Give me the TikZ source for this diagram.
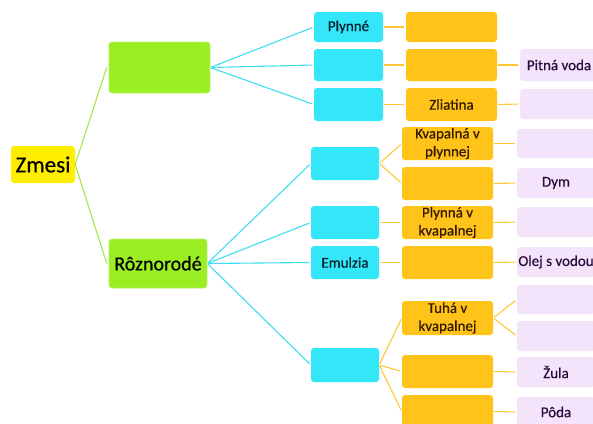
\documentclass[tikz,border=0pt]{standalone}
\usepackage{fontspec}
\setmainfont{Carlito}
\newfontfamily\medfont{Carlito}[FakeBold=0.5]
\definecolor{cyel}{HTML}{FFEE00}
\definecolor{cgrn}{HTML}{9AEE22}
\definecolor{cgrnl}{HTML}{A6E84A}
\definecolor{ccyn}{HTML}{33E6F8}
\definecolor{ccynl}{HTML}{40DDF2}
\definecolor{corg}{HTML}{FFC31A}
\definecolor{corgl}{HTML}{FFC733}
\definecolor{clav}{HTML}{F4E4FB}
\definecolor{tcyn}{HTML}{08202E}
\definecolor{torg}{HTML}{331A00}
\definecolor{tlav}{HTML}{280C3C}
\begin{document}
\begin{tikzpicture}[x=1pt,y=-1pt,
  box/.style={rounded corners=3pt,inner sep=0pt,align=center,font=\medfont\fontsize{15}{18}\selectfont},
  yelbox/.style={box,fill=cyel,text=black,font=\medfont\fontsize{23}{26}\selectfont},
  grnbox/.style={box,fill=cgrn,draw=cgrn!70!white,line width=0.6pt,text=black,font=\medfont\fontsize{20}{24}\selectfont},
  cynbox/.style={box,fill=ccyn,text=tcyn},
  orgbox/.style={box,fill=corg,text=torg},
  lavbox/.style={box,fill=clav,text=tlav},
  gline/.style={draw=cgrnl,line width=1.1pt},
  cline/.style={draw=ccynl,line width=1.1pt,shorten <=1pt,shorten >=1.5pt},
  oline/.style={draw=corgl,line width=1.1pt,shorten <=1pt,shorten >=1.5pt}]
\useasboundingbox (0,0) rectangle (593,423);
% root
\node[yelbox,minimum width=64pt,minimum height=37pt] (zm) at (43,164.5) {Zmesi};
\node[grnbox,minimum width=101pt,minimum height=51pt] (g1) at (159.5,67.5) {};
\node[grnbox,minimum width=98pt,minimum height=49pt] (g2) at (158,263.5) {Rôznorodé};
% group 1
\node[cynbox,minimum width=69pt,minimum height=30pt] (c1) at (348.5,27) {Plynné};
\node[cynbox,minimum width=69pt,minimum height=32pt] (c2) at (348.5,65) {};
\node[cynbox,minimum width=69pt,minimum height=33pt] (c3) at (348.5,104.5) {};
\node[orgbox,minimum width=91pt,minimum height=30pt] (o1) at (451.5,27) {};
\node[orgbox,minimum width=91pt,minimum height=32pt] (o2) at (451.5,65) {};
\node[orgbox,minimum width=91pt,minimum height=33pt] (o3) at (451.5,104.5) {Zliatina};
\node[lavbox,minimum width=78pt,minimum height=32pt] (l2) at (559,65) {Pitná voda};
\node[lavbox,minimum width=78pt,minimum height=30pt] (l3) at (559,104) {};
% group 2
\node[cynbox,minimum width=68pt,minimum height=33pt] (cA) at (345,163.5) {};
\node[cynbox,minimum width=68pt,minimum height=33pt] (cB) at (345,222.5) {};
\node[cynbox,minimum width=68pt,minimum height=33pt] (cE) at (345,262.5) {Emulzia};
\node[cynbox,minimum width=68pt,minimum height=34pt] (cC) at (345,365) {};
\node[orgbox,minimum width=91pt,minimum height=33pt] (oA1) at (447.5,143.5) {Kvapalná v\\plynnej};
\node[orgbox,minimum width=91pt,minimum height=33pt] (oA2) at (447.5,183.5) {};
\node[orgbox,minimum width=91pt,minimum height=33pt] (oB) at (447.5,222.5) {Plynná v\\kvapalnej};
\node[orgbox,minimum width=91pt,minimum height=33pt] (oE) at (447.5,262.5) {};
\node[orgbox,minimum width=91pt,minimum height=34pt] (oC1) at (447.5,318) {Tuhá v\\kvapalnej};
\node[orgbox,minimum width=91pt,minimum height=33pt] (oC2) at (447.5,371.5) {};
\node[orgbox,minimum width=91pt,minimum height=33pt] (oC3) at (447.5,411.5) {};
\node[lavbox,minimum width=78pt,minimum height=29pt] (lA1) at (556,143.5) {};
\node[lavbox,minimum width=78pt,minimum height=30pt] (lA2) at (556,183) {Dym};
\node[lavbox,minimum width=78pt,minimum height=30pt] (lB) at (556,222) {};
\node[lavbox,minimum width=78pt,minimum height=30pt] (lE) at (556,262) {Olej s vodou};
\node[lavbox,minimum width=78pt,minimum height=29pt] (lC1a) at (556,299.5) {};
\node[lavbox,minimum width=78pt,minimum height=30pt] (lC1b) at (556,336) {};
\node[lavbox,minimum width=78pt,minimum height=30pt] (lC2) at (556,372) {Žula};
\node[lavbox,minimum width=78pt,minimum height=30pt] (lC3) at (556,412) {Pôda};
% connectors
\draw[gline] (zm.east) -- ([xshift=-2pt]g1.west);
\draw[gline] (zm.east) -- ([xshift=-2pt]g2.west);
\foreach \t in {c1,c2,c3} \draw[cline] (g1.east) -- (\t.west);
\foreach \t in {cA,cB,cE,cC} \draw[cline] (g2.east) -- (\t.west);
\draw[oline] (c1.east) -- (o1.west);
\draw[oline] (c2.east) -- (o2.west);
\draw[oline] (c3.east) -- (o3.west);
\draw[oline] (o2.east) -- (l2.west);
\draw[oline] (o3.east) -- (l3.west);
\draw[oline] (cA.east) -- (oA1.west);
\draw[oline] (cA.east) -- (oA2.west);
\draw[oline] (cB.east) -- (oB.west);
\draw[oline] (cE.east) -- (oE.west);
\draw[oline] (cC.east) -- (oC1.west);
\draw[oline] (cC.east) -- (oC2.west);
\draw[oline] (cC.east) -- (oC3.west);
\draw[oline] (oA1.east) -- (lA1.west);
\draw[oline] (oA2.east) -- (lA2.west);
\draw[oline] (oB.east) -- (lB.west);
\draw[oline] (oE.east) -- (lE.west);
\draw[oline] (oC1.east) -- (lC1a.west);
\draw[oline] (oC1.east) -- (lC1b.west);
\draw[oline] (oC2.east) -- (lC2.west);
\draw[oline] (oC3.east) -- (lC3.west);
\end{tikzpicture}
\end{document}
